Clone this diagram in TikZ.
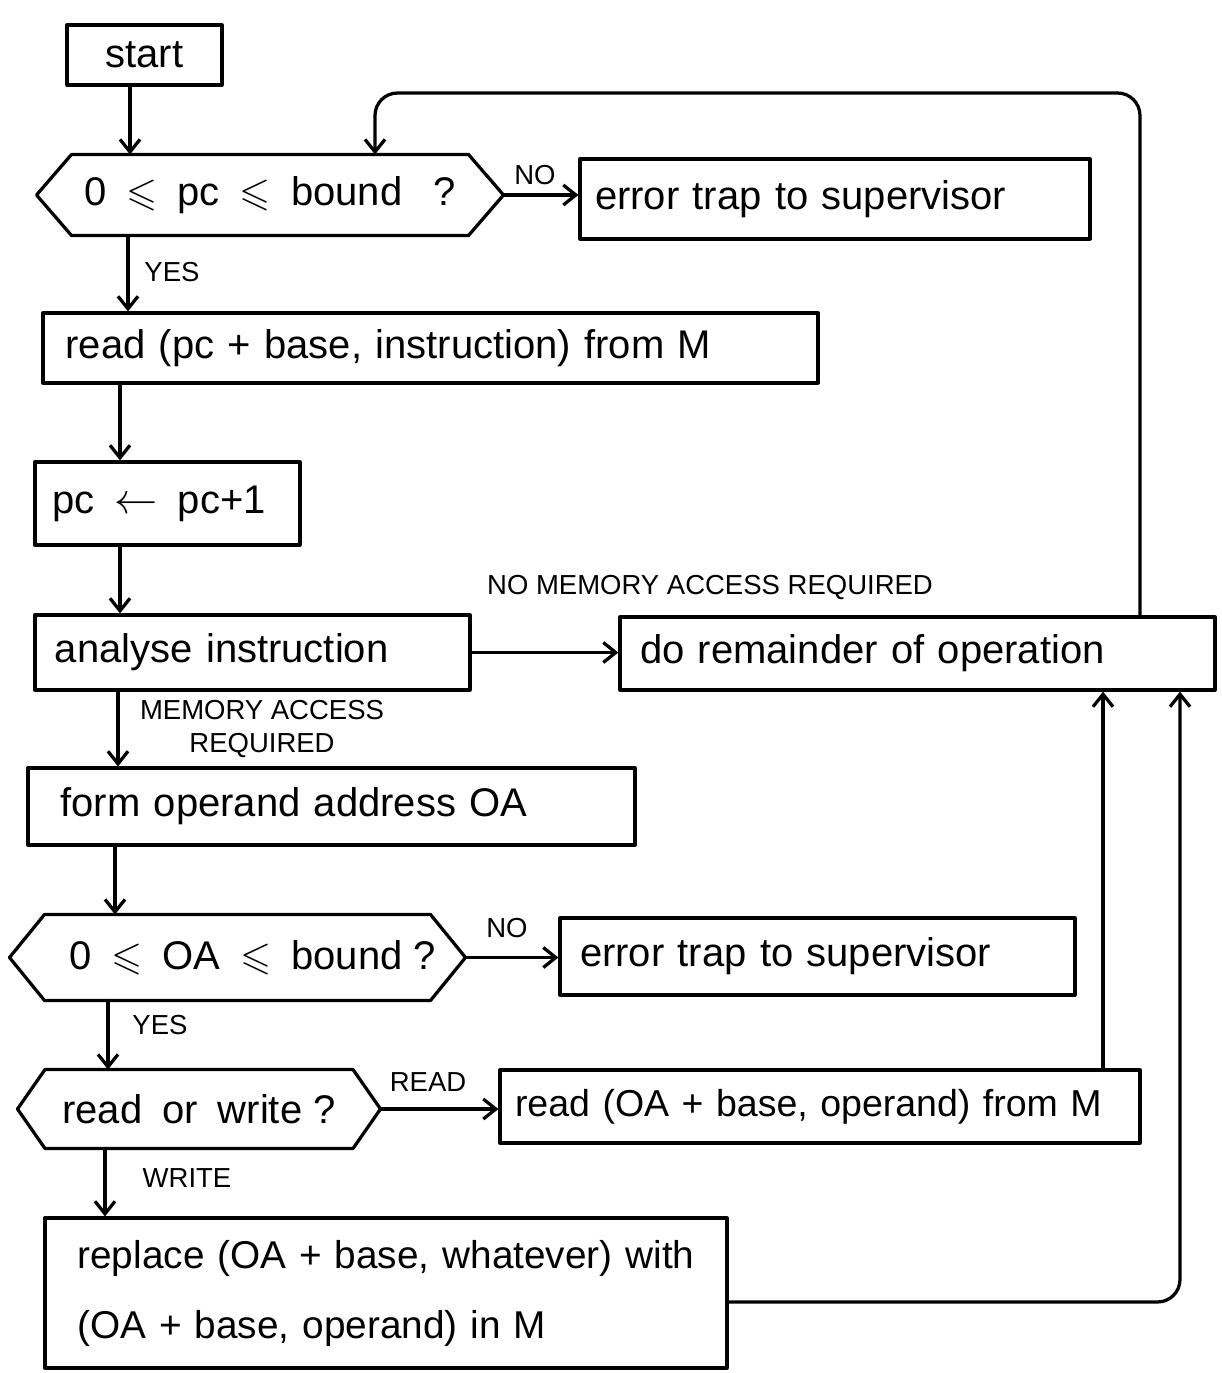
\documentclass[tikz,border=0pt]{standalone}
\usepackage{amssymb}
\usepackage{fontspec}
\setmainfont{Liberation Sans}
\usetikzlibrary{arrows.meta,calc}

% hexagonal decision outline drawn around a named (invisible) node
\newcommand\hexoutline[2]{%
  \draw[line] (#1.west) -- ([xshift=#2]#1.north west) -- ([xshift=-#2]#1.north east)
    -- (#1.east) -- ([xshift=-#2]#1.south east) -- ([xshift=#2]#1.south west) -- cycle;}

\begin{document}
\begin{tikzpicture}[x=0.4pt,y=-0.4pt,
  line/.style={line width=1.3pt,line join=round,line cap=round},
  flow/.style={line,-{Straight Barb[length=5pt,width=8pt,line width=1.3pt]}},
  txt/.style={font=\fontsize{16}{20}\selectfont},
  lbl/.style={font=\fontsize{11}{14}\selectfont,inner sep=1pt},
  box/.style={txt,draw,line,rectangle,align=left},
  decision/.style={txt,rectangle,draw=none,align=center,inner sep=0pt}]

\path[use as bounding box,fill=white] (0,0) rectangle (1221,1373);

% column positions of the vertical connectors
\coordinate (xa) at (130,0);
\coordinate (xb) at (128,0);
\coordinate (xc) at (120,0);
\coordinate (xd) at (118,0);
\coordinate (xe) at (115,0);
\coordinate (xf) at (108,0);
\coordinate (xg) at (105,0);
\coordinate (xr) at (1103,0);
\coordinate (loopTR) at (1140,93);
\coordinate (loopTL) at (375,93);
\coordinate (retBR) at (1180,1302);

% process boxes
\node[box,align=center,minimum width=62pt,minimum height=24pt,inner sep=0pt] (start) at (144.5,55) {start};
\node[decision,minimum width=186.4pt,minimum height=32pt] (d1) at (270,195)
  {0\enspace$\leqslant$\enspace pc\enspace$\leqslant$\enspace bound\enspace\ ?};
\hexoutline{d1}{14pt}
\node[box,minimum width=204pt,minimum height=32pt,inner xsep=6pt,text width=192pt] (e1) at (835,199)
  {\mbox{error trap to supervisor}};
\node[box,minimum width=310pt,minimum height=28pt,inner xsep=9pt,text width=292pt] (r1) at (430.5,348)
  {\mbox{read (pc + base, instruction) from M}};
\node[box,minimum width=106pt,minimum height=33.2pt,inner xsep=7pt,text width=92pt] (pc) at (167.5,503.5)
  {\mbox{pc\enspace$\leftarrow$\enspace pc+1}};
\node[box,minimum width=174pt,minimum height=30pt,inner xsep=8pt,text width=158pt] (an) at (252.5,652.5)
  {\mbox{analyse instruction}};
\node[box,minimum width=238pt,minimum height=29.2pt,inner xsep=8pt,text width=222pt] (dr) at (917.5,653.5)
  {\mbox{do remainder of operation}};
\node[box,minimum width=242.8pt,minimum height=30.8pt,inner xsep=13pt,text width=216.8pt] (fo) at (331.5,806.5)
  {\mbox{form operand address OA}};
\node[decision,minimum width=182pt,minimum height=34pt] (d2) at (237.5,957.5)
  {\hspace*{12pt}0\enspace$\leqslant$\enspace OA\enspace$\leqslant$\enspace bound ?};
\hexoutline{d2}{14pt}
\node[box,minimum width=206pt,minimum height=30.8pt,inner xsep=8pt,text width=190pt] (e2) at (817.5,956.5)
  {\mbox{error trap to supervisor}};
\node[decision,minimum width=144.8pt,minimum height=31.2pt] (d3) at (199,1109)
  {read\enspace or\enspace write ?};
\hexoutline{d3}{11pt}
\node[box,font=\fontsize{15}{20}\selectfont,minimum width=256pt,minimum height=29.2pt,inner xsep=6pt,text width=244pt] (ro) at (820,1106.5)
  {\mbox{read (OA + base, operand) from M}};
\node[box,font=\fontsize{15.5}{28}\selectfont,minimum width=272.8pt,minimum height=60pt,inner xsep=13pt,text width=246.8pt] (rp) at (386,1293)
  {\mbox{replace (OA + base, whatever) with}\\\mbox{(OA + base, operand) in M}};

% branch labels
\node[lbl] (lno1) at (535,175) {NO};
\node[lbl] (lyes1) at (172,272) {YES};
\node[lbl] (lnomem) at (710,587) {NO MEMORY ACCESS REQUIRED};
\node[lbl,align=center] (lmem) at (262,729) {MEMORY ACCESS\\[-1pt]REQUIRED};
\node[lbl] (lno2) at (507,928) {NO};
\node[lbl] (lyes2) at (160,1025) {YES};
\node[lbl] (lread) at (428,1082) {READ};
\node[lbl] (lwrite) at (187,1178) {WRITE};

% connectors down the main column
\draw[flow] (start.south -| xa) -- (d1.north -| xa);
\draw[flow] (d1.south -| xb) -- (r1.north -| xb);
\draw[flow] (r1.south -| xc) -- (pc.north -| xc);
\draw[flow] (pc.south -| xc) -- (an.north -| xc);
\draw[flow] (an.south -| xd) -- (fo.north -| xd);
\draw[flow] (fo.south -| xe) -- (d2.north -| xe);
\draw[flow] (d2.south -| xf) -- (d3.north -| xf);
\draw[flow] (d3.south -| xg) -- (rp.north -| xg);

% side branches
\draw[flow] (d1.east) -- (e1.west |- d1.east);
\draw[flow] (an.east) -- (dr.west |- an.east);
\draw[flow] (d2.east) -- (e2.west |- d2.east);
\draw[flow] (d3.east) -- (ro.west |- d3.east);

% return paths
\draw[flow,rounded corners=9pt] (dr.north -| loopTR) -- (loopTR) -- (loopTL) -- (d1.north -| loopTL);
\draw[flow] (ro.north -| xr) -- (dr.south -| xr);
\draw[flow,rounded corners=9pt] (rp.east |- retBR) -- (retBR) -- (dr.south -| retBR);

\end{tikzpicture}
\end{document}
